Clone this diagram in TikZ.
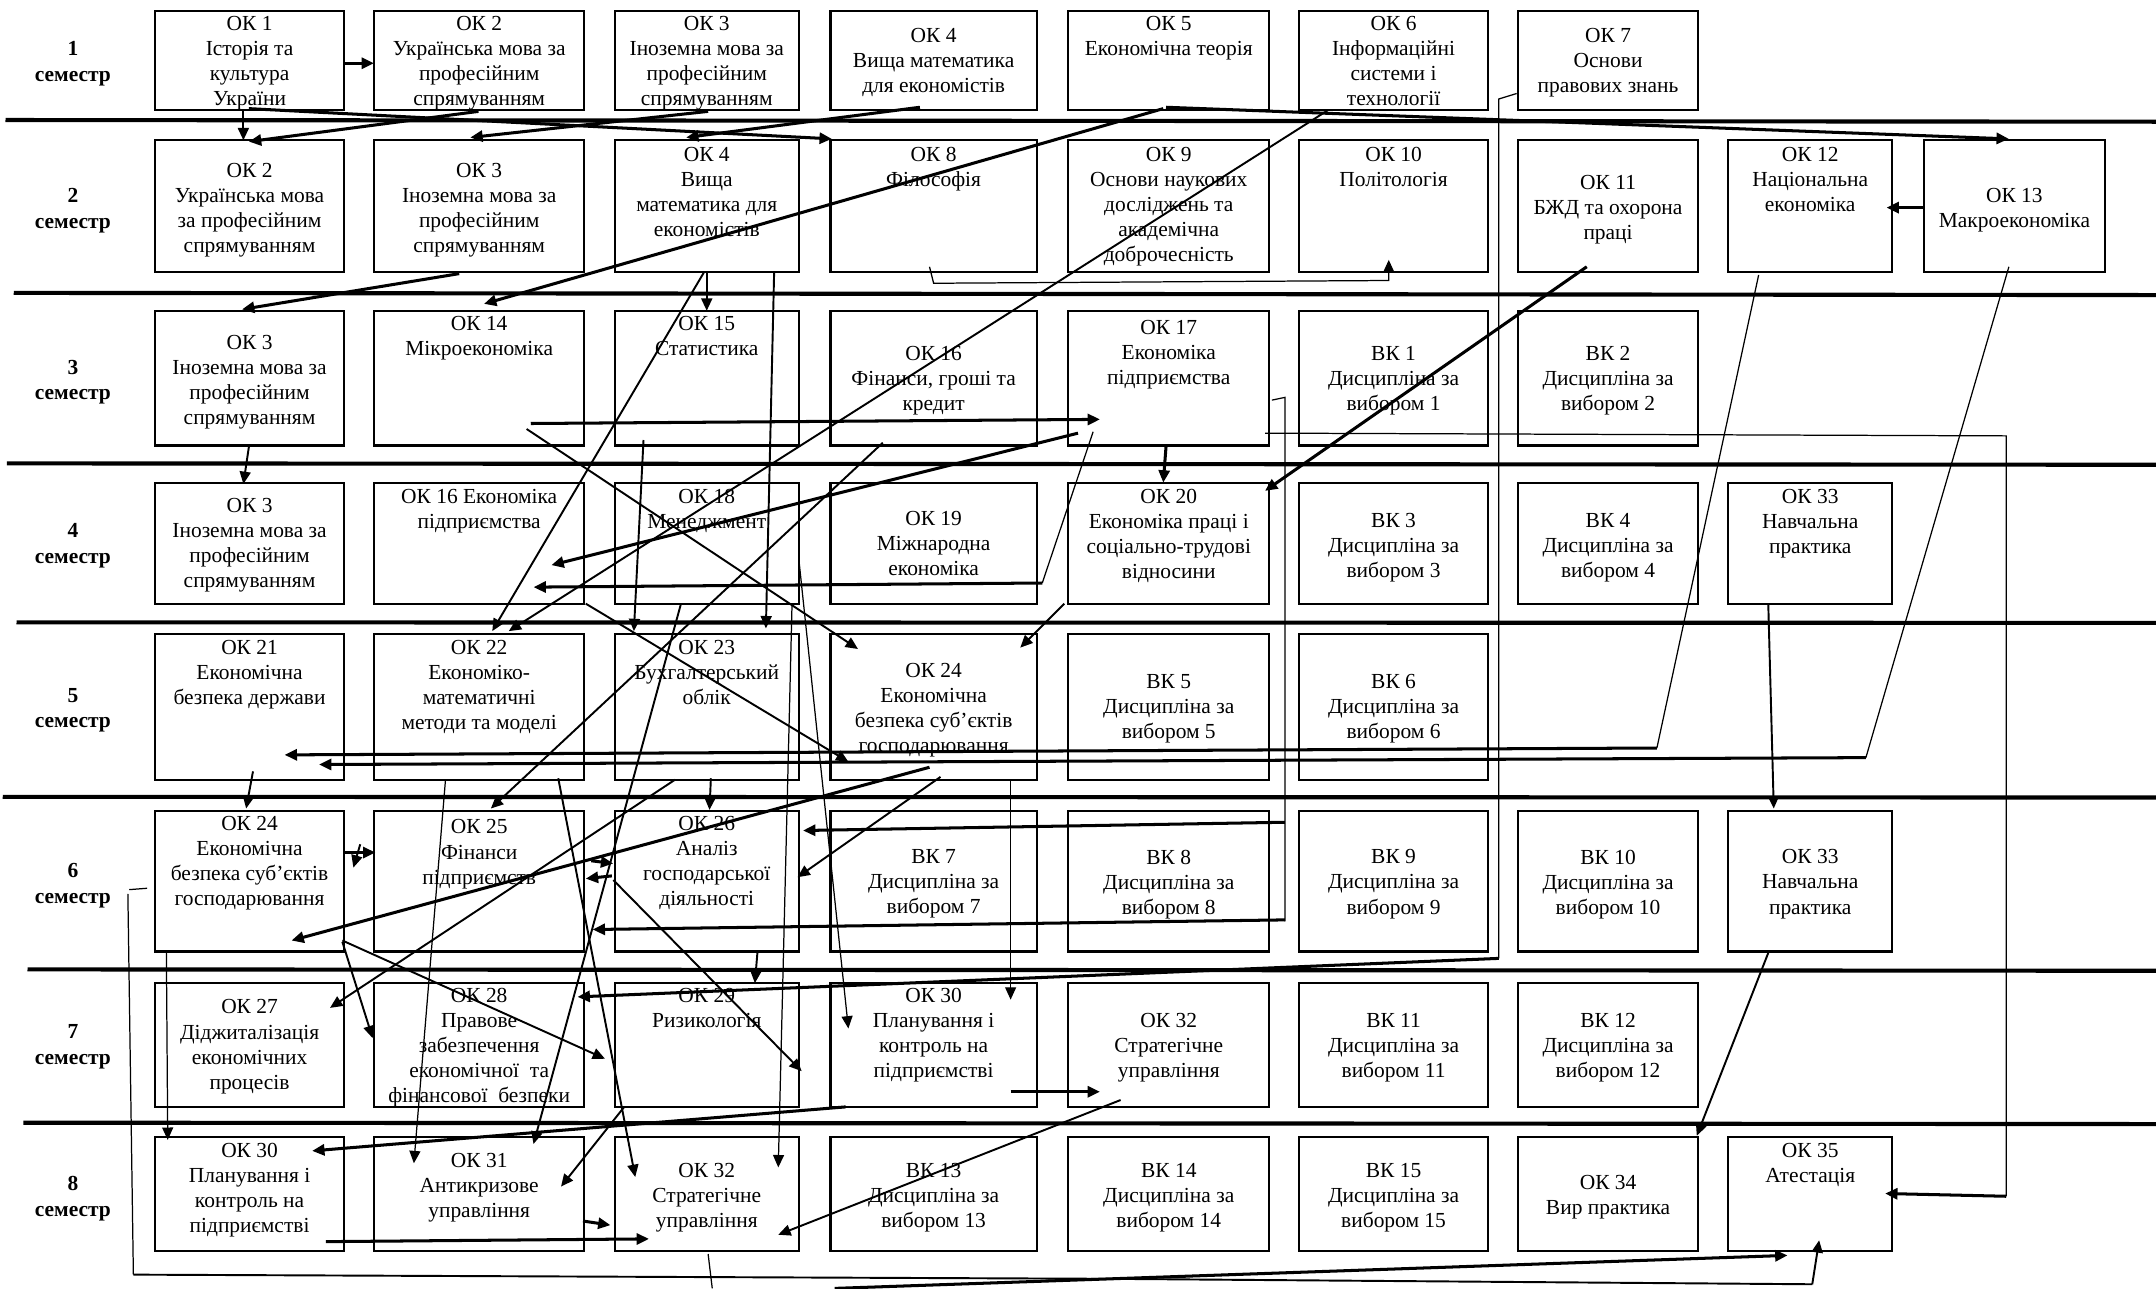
\documentclass[tikz,border=0pt]{standalone}
\usepackage{fontspec}
\setmainfont{Liberation Serif}
\usetikzlibrary{arrows.meta}
\tikzset{
  box/.style={draw, rectangle, line width=1.6pt, inner sep=0pt, outer sep=0pt},
  txt/.style={inner sep=0pt, align=center, font=\fontsize{15.6pt}{18.2pt}\selectfont},
  sem/.style={inner sep=0pt, align=center, font=\bfseries\fontsize{15.6pt}{18.8pt}\selectfont},
  sepline/.style={line width=3pt},
  thk/.style={line width=2.2pt},
  med/.style={line width=1.4pt},
  thn/.style={line width=0.9pt},
  tip/.style={-{Triangle[length=9pt,width=8pt]}},
}
% box: name, x1, y1, x2, y2, centre of first text line, text
\newcommand\bx[7]{%
  \node[box, minimum width={(#4)-(#2)}, minimum height={(#5)-(#3)}] (#1) at ({((#2)+(#4))/2},{((#3)+(#5))/2}) {};
  \expandafter\gdef\csname bxx@#1\endcsname{#2}%
  \expandafter\gdef\csname bxy@#1\endcsname{#3}%
  \node[txt, anchor=north] (#1-t) at ({((#2)+(#4))/2},{(#6)-5.2}) {#7};
}
% point given in picture units, expressed relative to a named box
\newcommand\rel[3]{([shift={({(#2)-\csname bxx@#1\endcsname},{(#3)-\csname bxy@#1\endcsname})}]#1.north west)}
\begin{document}
\begin{tikzpicture}[x=1pt,y=-1pt]
\fill[white] (0,0) rectangle (1568,937);
\useasboundingbox (0,0) rectangle (1568,937);

% semester separators
\draw[sepline] (4,87.3) -- (1568,88.5);
\draw[sepline] (10,213) -- (1568,214.6);
\draw[sepline] (5,337) -- (1568,338);
\draw[sepline] (12,452.6) -- (1568,453);
\draw[sepline] (2,579.5) -- (1568,580);
\draw[sepline] (20,705) -- (1568,706);
\draw[sepline] (17,816.5) -- (1568,817.5);

% semester labels
\node[sem, anchor=north] (sem1) at (53,29.8) {1\\семестр};
\node[sem, anchor=north] (sem2) at (53,136.6) {2\\семестр};
\node[sem, anchor=north] (sem3) at (53,261.5) {3\\семестр};
\node[sem, anchor=north] (sem4) at (53,380.2) {4\\семестр};
\node[sem, anchor=north] (sem5) at (53,500.2) {5\\семестр};
\node[sem, anchor=north] (sem6) at (53,627.5) {6\\семестр};
\node[sem, anchor=north] (sem7) at (53,745.1) {7\\семестр};
\node[sem, anchor=north] (sem8) at (53,855.4) {8\\семестр};

% row 1
\bx{r1c1}{113}{8}{250}{80}{17}{ОК 1\\Історія та\\культура\\України}
\bx{r1c2}{272}{8}{425}{80}{17}{ОК 2\\Українська мова за\\професійним\\спрямуванням}
\bx{r1c3}{447}{8}{581}{80}{17}{ОК 3\\Іноземна мова за\\професійним\\спрямуванням}
\bx{r1c4}{604}{8}{754}{80}{25.5}{ОК 4\\Вища математика\\для економістів}
\bx{r1c5}{777}{8}{923}{80}{17}{ОК 5\\Економічна теорія}
\bx{r1c6}{945}{8}{1082}{80}{17}{ОК 6\\Інформаційні\\системи і\\технології}
\bx{r1c7}{1104}{8}{1235}{80}{25.5}{ОК 7\\Основи\\правових знань}
% row 2
\bx{r2c1}{113}{102}{250}{198}{123.6}{ОК 2\\Українська мова\\за професійним\\спрямуванням}
\bx{r2c2}{272}{102}{425}{198}{123.6}{ОК 3\\Іноземна мова за\\професійним\\спрямуванням}
\bx{r2c3}{447}{102}{581}{198}{112}{ОК 4\\Вища\\математика для\\економістів}
\bx{r2c4}{604}{102}{754}{198}{112}{ОК 8\\Філософія}
\bx{r2c5}{777}{102}{923}{198}{112}{ОК 9\\Основи наукових\\досліджень та\\академічна\\доброчесність}
\bx{r2c6}{945}{102}{1082}{198}{112}{ОК 10\\Політологія}
\bx{r2c7}{1104}{102}{1235}{198}{132.8}{ОК 11\\БЖД та охорона\\праці}
\bx{r2c8}{1257}{102}{1376}{198}{112}{ОК 12\\Національна\\економіка}
\bx{r2c9}{1399}{102}{1531}{198}{141.8}{ОК 13\\Макроекономіка}
% row 3
\bx{r3c1}{113}{226}{250}{324}{248.5}{ОК 3\\Іноземна мова за\\професійним\\спрямуванням}
\bx{r3c2}{272}{226}{425}{324}{235}{ОК 14\\Мікроекономіка}
\bx{r3c3}{447}{226}{581}{324}{235}{ОК 15\\Статистика}
\bx{r3c4}{604}{226}{754}{324}{257}{ОК 16\\Фінанси, гроші та\\кредит}
\bx{r3c5}{777}{226}{923}{324}{237.6}{ОК 17\\Економіка\\підприємства}
\bx{r3c6}{945}{226}{1082}{324}{257}{ВК 1\\Дисципліна за\\вибором 1}
\bx{r3c7}{1104}{226}{1235}{324}{257}{ВК 2\\Дисципліна за\\вибором 2}
% row 4
\bx{r4c1}{113}{351}{250}{439}{367.3}{ОК 3\\Іноземна мова за\\професійним\\спрямуванням}
\bx{r4c2}{272}{351}{425}{439}{361}{ОК 16 Економіка\\підприємства}
\bx{r4c3}{447}{351}{581}{439}{361}{ОК 18\\Менеджмент}
\bx{r4c4}{604}{351}{754}{439}{377}{ОК 19\\Міжнародна\\економіка}
\bx{r4c5}{777}{351}{923}{439}{361}{ОК 20\\Економіка праці і\\соціально-трудові\\відносини}
\bx{r4c6}{945}{351}{1082}{439}{378}{ВК 3\\Дисципліна за\\вибором 3}
\bx{r4c7}{1104}{351}{1235}{439}{378}{ВК 4\\Дисципліна за\\вибором 4}
\bx{r4c8}{1257}{351}{1376}{439}{361}{ОК 33\\Навчальна\\практика}
% row 5
\bx{r5c1}{113}{461}{250}{567}{470.3}{ОК 21\\Економічна\\безпека держави}
\bx{r5c2}{272}{461}{425}{567}{470.3}{ОК 22\\Економіко-\\математичні\\методи та моделі}
\bx{r5c3}{447}{461}{581}{567}{470.3}{ОК 23\\Бухгалтерський\\облік}
\bx{r5c4}{604}{461}{754}{567}{487.2}{ОК 24\\Економічна\\безпека суб’єктів\\господарювання}
\bx{r5c5}{777}{461}{923}{567}{495.7}{ВК 5\\Дисципліна за\\вибором 5}
\bx{r5c6}{945}{461}{1082}{567}{495.7}{ВК 6\\Дисципліна за\\вибором 6}
% row 6
\bx{r6c1}{113}{590}{250}{692}{598.7}{ОК 24\\Економічна\\безпека суб’єктів\\господарювання}
\bx{r6c2}{272}{590}{425}{692}{601.2}{ОК 25\\Фінанси\\підприємств}
\bx{r6c3}{447}{590}{581}{692}{598.7}{ОК 26\\Аналіз\\господарської\\діяльності}
\bx{r6c4}{604}{590}{754}{692}{623}{ВК 7\\Дисципліна за\\вибором 7}
\bx{r6c5}{777}{590}{923}{692}{623}{ВК 8\\Дисципліна за\\вибором 8}
\bx{r6c6}{945}{590}{1082}{692}{623}{ВК 9\\Дисципліна за\\вибором 9}
\bx{r6c7}{1104}{590}{1235}{692}{623}{ВК 10\\Дисципліна за\\вибором 10}
\bx{r6c8}{1257}{590}{1376}{692}{623}{ОК 33\\Навчальна\\практика}
% row 7
\bx{r7c1}{113}{715}{250}{805}{732.1}{ОК 27\\Діджиталізація\\економічних\\процесів}
\bx{r7c2}{272}{715}{425}{805}{723.6}{ОК 28\\Правове\\забезпечення\\економічної~ та\\фінансової~ безпеки}
\bx{r7c3}{447}{715}{581}{805}{723.6}{ОК 29\\Ризикологія}
\bx{r7c4}{604}{715}{754}{805}{723.6}{ОК 30\\Планування і\\контроль на\\підприємстві}
\bx{r7c5}{777}{715}{923}{805}{741.8}{ОК 32\\Стратегічне\\управління}
\bx{r7c6}{945}{715}{1082}{805}{741.8}{ВК 11\\Дисципліна за\\вибором 11}
\bx{r7c7}{1104}{715}{1235}{805}{741.8}{ВК 12\\Дисципліна за\\вибором 12}
% row 8
\bx{r8c1}{113}{827}{250}{910}{836.3}{ОК 30\\Планування і\\контроль на\\підприємстві}
\bx{r8c2}{272}{827}{425}{910}{843.6}{ОК 31\\Антикризове\\управління}
\bx{r8c3}{447}{827}{581}{910}{851}{ОК 32\\Стратегічне\\управління}
\bx{r8c4}{604}{827}{754}{910}{851}{ВК 13\\Дисципліна за\\вибором 13}
\bx{r8c5}{777}{827}{923}{910}{851}{ВК 14\\Дисципліна за\\вибором 14}
\bx{r8c6}{945}{827}{1082}{910}{851}{ВК 15\\Дисципліна за\\вибором 15}
\bx{r8c7}{1104}{827}{1235}{910}{859.4}{ОК 34\\Вир практика}
\bx{r8c8}{1257}{827}{1376}{910}{836.3}{ОК 35\\Атестація}

% junction points of the routed connectors
\coordinate (j1090) at (1090,697);
\coordinate (k21) at (758,424);
\coordinate (k24) at (1205,544);
\coordinate (k25) at (1357,551);
\coordinate (k27a) at (1459,317);
\coordinate (k27b) at (1459,870);
\coordinate (k28a) at (934.5,598);
\coordinate (k28b) at (934.5,669);
\coordinate (kbot) at (607,937);
\coordinate (kbr) at (1318,934);

% connectors
\draw[thk,tip] \rel{r1c1}{250}{46} -- \rel{r1c2}{272}{46};
\draw[med,tip] \rel{r1c1}{177}{80} -- \rel{r2c1}{177}{102};
\draw[thk,tip] \rel{r1c2}{348}{81} -- \rel{r2c1}{181}{103};
\draw[thk,tip] \rel{r1c1}{181}{79} -- \rel{r2c4}{605}{101};
\draw[thk,tip] \rel{r1c3}{515}{81} -- \rel{r2c2}{342}{100};
\draw[thk,tip] \rel{r1c4}{669}{78} -- \rel{r2c3}{499}{100};
\draw[thk,tip] \rel{r1c5}{848}{78} -- \rel{r2c9}{1461}{101};
\draw[thk,tip] \rel{r1c5}{846}{79} -- \rel{r3c2}{352}{221};
\draw[med,tip] \rel{r1c6}{966}{80} -- \rel{r5c2}{370}{459};
\draw[thn,tip] \rel{r2c4}{676}{194} -- (679,206) -- (1010,204) -- \rel{r2c6}{1010}{189};
\draw[thn] \rel{r1c7}{1103}{68} -- (1090,72) -- (j1090);
\draw[thk,tip] (j1090) -- \rel{r7c2}{420}{725};
\draw[thk,tip] \rel{r2c2}{334}{199} -- \rel{r3c1}{176}{225};
\draw[med,tip] \rel{r2c3}{514}{198} -- \rel{r3c3}{514}{226};
\draw[med,tip] \rel{r2c3}{512}{198} -- \rel{r5c2}{358}{459};
\draw[med,tip] \rel{r2c3}{563}{198} -- \rel{r5c3}{557}{457};
\draw[med,tip] \rel{r3c3}{468}{320} -- \rel{r5c3}{461}{459};
\draw[thk,tip] \rel{r3c2}{386}{308} -- \rel{r3c5}{800}{305};
\draw[med,tip] \rel{r3c2}{383}{312} -- \rel{r5c4}{624}{472};
\draw[med,tip] \rel{r3c4}{642}{322} -- \rel{r6c2}{357}{588};
\draw[thk,tip] \rel{r3c5}{784}{315} -- \rel{r4c2}{401}{411};
\draw[thn] \rel{r3c5}{795}{314} -- (k21);
\draw[thk,tip] (k21) -- \rel{r4c2}{388}{427};
\draw[thk,tip] \rel{r3c5}{848}{325} -- \rel{r4c5}{846}{351};
\draw[thk,tip] \rel{r2c7}{1154}{194} -- \rel{r4c5}{920}{357};
\draw[thn] \rel{r2c8}{1279}{200} -- (k24);
\draw[thk,tip] (k24) -- \rel{r5c1}{207}{549};
\draw[thn] \rel{r2c9}{1461}{194} -- (k25);
\draw[thk,tip] (k25) -- \rel{r5c1}{232}{556};
\draw[thk,tip] \rel{r2c9}{1399}{151} -- \rel{r2c8}{1372}{151};
\draw[thn] \rel{r3c5}{920}{315} -- (k27a) -- (k27b);
\draw[thk,tip] (k27b) -- \rel{r8c8}{1371}{868};
\draw[thn] \rel{r3c5}{925}{291} -- (934.5,289) -- (934.5,670);
\draw[thk,tip] (k28a) -- \rel{r6c3}{584}{604};
\draw[thk,tip] (k28b) -- \rel{r6c2}{431}{676};
\draw[med,tip] \rel{r3c1}{181}{325} -- \rel{r4c1}{177}{352};
\draw[med,tip] \rel{r4c2}{426}{439} -- \rel{r5c4}{617}{554};
\draw[med,tip] \rel{r4c3}{495}{440} -- \rel{r8c2}{388}{832};
\draw[thn,tip] \rel{r4c3}{581}{407} -- \rel{r7c4}{617}{748};
\draw[thn,tip] \rel{r4c3}{576}{440} -- \rel{r8c3}{566}{849};
\draw[med,tip] \rel{r4c5}{774}{439} -- \rel{r5c4}{742}{471};
\draw[med,tip] \rel{r4c8}{1286}{439} -- \rel{r6c8}{1290}{588};
\draw[med,tip] \rel{r6c8}{1286}{693} -- \rel{r8c7}{1234}{826};
\draw[med,tip] \rel{r5c1}{184}{561} -- \rel{r6c1}{179}{588};
\draw[thn,tip] \rel{r5c2}{324}{567} -- \rel{r8c2}{301}{846};
\draw[med,tip] \rel{r5c2}{406}{566} -- \rel{r8c3}{462}{856};
\draw[med,tip] \rel{r5c3}{517}{566} -- \rel{r6c3}{516}{589};
\draw[med,tip] \rel{r5c3}{491}{567} -- \rel{r7c1}{240}{733};
\draw[thk,tip] \rel{r5c4}{676}{558} -- \rel{r6c1}{212}{684};
\draw[med,tip] \rel{r5c4}{684}{565} -- \rel{r6c3}{580}{638};
\draw[thn,tip] \rel{r5c4}{735}{567} -- \rel{r7c4}{735}{727};
\draw[thk,tip] \rel{r6c1}{250}{620} -- \rel{r6c2}{273}{620};
\draw[med,tip] \rel{r6c1}{262}{614} -- \rel{r6c1}{257}{631};
\draw[thk,tip] \rel{r6c2}{430}{626} -- \rel{r6c3}{446}{628};
\draw[thk,tip] \rel{r6c3}{445}{637} -- \rel{r6c2}{426}{639};
\draw[med,tip] \rel{r6c3}{446}{640} -- \rel{r7c4}{583}{779};
\draw[thn,tip] \rel{r6c1}{121}{693} -- \rel{r8c1}{122}{829};
\draw[med,tip] \rel{r6c1}{249}{685} -- \rel{r7c2}{271}{755};
\draw[med,tip] \rel{r6c1}{249}{684} -- \rel{r7c3}{440}{770};
\draw[med,tip] \rel{r6c3}{551}{691} -- \rel{r7c3}{549}{715};
\draw[thk,tip] \rel{r7c4}{735}{794} -- \rel{r7c5}{800}{794};
\draw[thk,tip] \rel{r7c4}{615}{805} -- \rel{r8c1}{227}{837};
\draw[med,tip] \rel{r7c5}{815}{800} -- \rel{r8c3}{566}{898};
\draw[med,tip] \rel{r7c3}{454}{805} -- \rel{r8c2}{408}{863};
\draw[thk,tip] \rel{r8c1}{237}{903} -- \rel{r8c3}{472}{901};
\draw[thk,tip] \rel{r8c2}{424}{888} -- \rel{r8c3}{444}{891};
\draw[thn] \rel{r8c3}{515}{912} -- (518,937);
\draw[thk,tip] (kbot) -- \rel{r8c8}{1300}{913};
\draw[thn] \rel{r6c1}{107}{646} -- (94,647);
\draw[thn] (93,650) -- (97,927);
\draw[med] (97,927) -- (800,930) -- (kbr);
\draw[med,tip] (kbr) -- \rel{r8c8}{1323}{902};
\end{tikzpicture}
\end{document}
